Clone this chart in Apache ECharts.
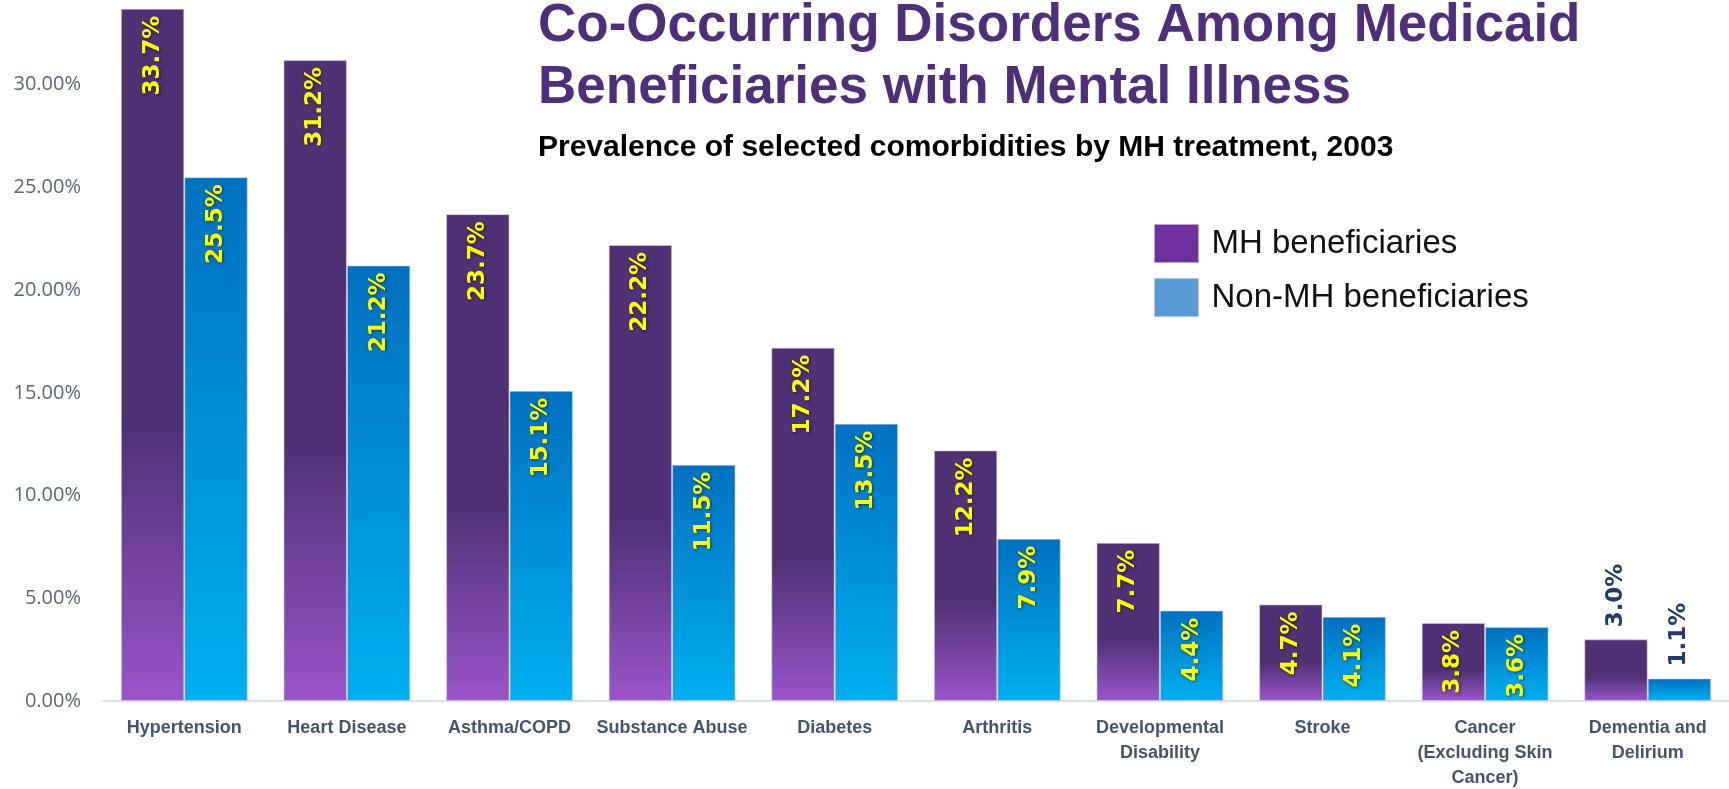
<!DOCTYPE html>
<html>
<head>
<meta charset="utf-8">
<title>Co-Occurring Disorders Among Medicaid Beneficiaries with Mental Illness</title>
<script src="https://cdn.jsdelivr.net/npm/echarts@6/dist/echarts.min.js"></script>
<style>
  html, body { margin: 0; padding: 0; background: #ffffff; }
  #chart { width: 1729px; height: 789px; }
</style>
</head>
<body>
<div id="chart"></div>
<script>
// Comorbidity categories along the x axis
const categories = [
  'Hypertension',
  'Heart Disease',
  'Asthma/COPD',
  'Substance Abuse',
  'Diabetes',
  'Arthritis',
  'Developmental\nDisability',
  'Stroke',
  'Cancer\n(Excluding Skin\nCancer)',
  'Dementia and\nDelirium'
];

// Prevalence (%) among beneficiaries receiving MH treatment
const mhValues = [33.7, 31.2, 23.7, 22.2, 17.2, 12.2, 7.7, 4.7, 3.8, 3.0];

// Prevalence (%) among beneficiaries without MH treatment
const nonMhValues = [25.5, 21.2, 15.1, 11.5, 13.5, 7.9, 4.4, 4.1, 3.6, 1.1];

const seriesNames = ['MH beneficiaries', 'Non-MH beneficiaries'];

// Value axis ticks
const yMin = 0;
const yMax = 35;
const yStep = 5;

const chart = echarts.init(document.getElementById('chart'), null, { renderer: 'canvas' });

const purpleFill = new echarts.graphic.LinearGradient(0, 0, 0, 1, [
  { offset: 0, color: '#4F3174' },
  { offset: 0.6, color: '#4F3174' },
  { offset: 1, color: '#9A55CA' }
]);
const blueFill = new echarts.graphic.LinearGradient(0, 0, 0, 1, [
  { offset: 0, color: '#0070C0' },
  { offset: 1, color: '#00B0F0' }
]);

// Value labels read upward along each bar; bars too short to hold one get it above instead
const labelFont = {
  fontFamily: '"DejaVu Sans", Verdana, sans-serif',
  fontWeight: 'bold',
  fontSize: 23,
  formatter: p => p.value.toFixed(1) + '%'
};
const insideLabel = Object.assign({
  show: true,
  position: 'insideTop',
  rotate: 90,
  align: 'right',
  verticalAlign: 'middle',
  distance: 7,
  color: '#FFFF00',
  textShadowColor: 'rgba(0,0,0,0.55)',
  textShadowBlur: 3,
  textShadowOffsetX: 1,
  textShadowOffsetY: 1
}, labelFont);
const outsideLabel = Object.assign({
  show: true,
  position: 'top',
  rotate: 90,
  align: 'left',
  verticalAlign: 'middle',
  distance: 12,
  color: '#233B66',
  textShadowColor: 'rgba(255,255,255,0.9)',
  textShadowBlur: 3
}, labelFont);
const toBarData = values => values.map(v => (v < 3.5 ? { value: v, label: outsideLabel } : v));

const barEdge = { borderColor: 'rgba(214,210,236,0.55)', borderWidth: 1 };

const option = {
  backgroundColor: '#ffffff',
  animation: false,
  title: [
    {
      text: 'Co-Occurring Disorders Among Medicaid\nBeneficiaries with Mental Illness',
      left: 533,
      top: -10,
      textStyle: {
        fontFamily: '"Liberation Sans", Arial, sans-serif',
        fontWeight: 'bold',
        fontSize: 53,
        lineHeight: 62,
        color: '#502F7A'
      }
    },
    {
      text: 'Prevalence of selected comorbidities by MH treatment, 2003',
      left: 533,
      top: 128,
      textStyle: {
        fontFamily: '"Liberation Sans", Arial, sans-serif',
        fontWeight: 'bold',
        fontSize: 30,
        lineHeight: 30,
        color: '#000000'
      }
    }
  ],
  legend: {
    orient: 'vertical',
    left: 1149,
    top: 219,
    itemWidth: 44,
    itemHeight: 38,
    itemGap: 15,
    icon: 'rect',
    selectedMode: false,
    textStyle: {
      fontFamily: '"Liberation Sans", Arial, sans-serif',
      fontSize: 33,
      color: '#111111',
      padding: [0, 0, 0, 8]
    },
    data: [
      { name: seriesNames[0], itemStyle: { color: '#7030A0', borderColor: '#B9A3D0', borderWidth: 1 } },
      { name: seriesNames[1], itemStyle: { color: '#5B9BD5', borderColor: '#A9CBEA', borderWidth: 1 } }
    ]
  },
  grid: {
    left: 103,
    right: 0,
    top: -18,
    bottom: 88,
    outerBoundsMode: 'none',
    containLabel: false
  },
  xAxis: {
    type: 'category',
    data: categories,
    axisLine: { show: true, lineStyle: { color: '#DCE1EA', width: 2 } },
    axisTick: { show: false },
    axisLabel: {
      interval: 0,
      margin: 15,
      fontFamily: '"Liberation Sans", Arial, sans-serif',
      fontWeight: 'bold',
      fontSize: 18,
      lineHeight: 25,
      color: '#44546A'
    }
  },
  yAxis: {
    type: 'value',
    min: yMin,
    max: yMax,
    interval: yStep,
    axisLine: { show: false },
    axisTick: { show: false },
    splitLine: { show: false },
    axisLabel: {
      margin: 22,
      fontFamily: '"Open Sans", sans-serif',
      fontSize: 20,
      color: '#5B6577',
      formatter: v => v.toFixed(2) + '%'
    }
  },
  series: [
    {
      name: seriesNames[0],
      type: 'bar',
      data: toBarData(mhValues),
      barGap: '0%',
      barCategoryGap: '22%',
      itemStyle: Object.assign({ color: purpleFill }, barEdge),
      label: insideLabel
    },
    {
      name: seriesNames[1],
      type: 'bar',
      data: toBarData(nonMhValues),
      barGap: '0%',
      barCategoryGap: '22%',
      itemStyle: Object.assign({ color: blueFill }, barEdge),
      label: insideLabel
    }
  ]
};

chart.setOption(option);
</script>
</body>
</html>
